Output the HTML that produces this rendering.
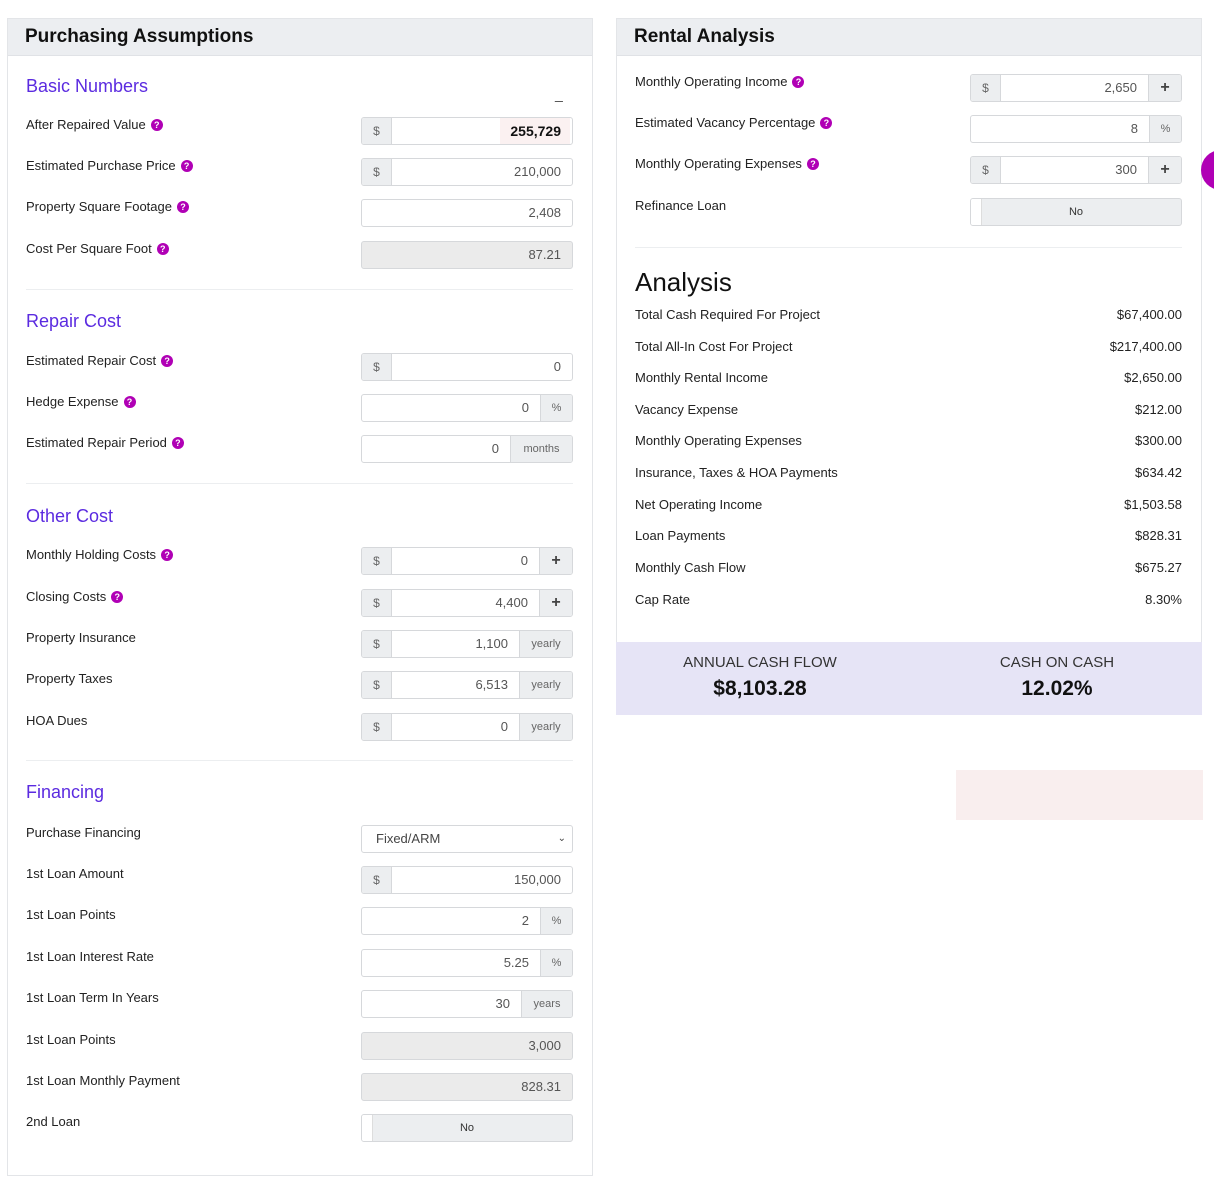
<!DOCTYPE html>
<html><head><meta charset="utf-8">
<style>
*{box-sizing:border-box;margin:0;padding:0}
body{width:1214px;height:1200px;background:#fff;font-family:"Liberation Sans",sans-serif;color:#222;position:relative;overflow:hidden}
.abs{position:absolute}
.panel{position:absolute;border:1px solid #e3e5e8;background:#fff}
.phead{position:absolute;left:0;right:0;top:0;height:37px;background:#eceef1;border-bottom:1px solid #e0e2e6;font-weight:bold;font-size:19px;padding:7px 0 0 17px;color:#111}
.sec{position:absolute;left:26px;font-size:18px;color:#5b2be0}
.lbl{position:absolute;font-size:13px;color:#222;white-space:nowrap;line-height:16px}
.help{display:inline-block;width:12px;height:12px;border-radius:50%;background:#b000b5;color:#fff;font-size:9px;font-weight:bold;text-align:center;line-height:12px;margin-left:5px;vertical-align:1px}
.inp{position:absolute;height:28px;border:1px solid #d6d8db;border-radius:3px;background:#fff;overflow:hidden}
.inp.dis{background:#ebebeb}
.pre,.suf{position:absolute;top:0;bottom:0;background:#eceef0;color:#666;font-size:12px;text-align:center;line-height:26px}
.pre{left:0;width:30px;border-right:1px solid #d6d8db}
.suf{right:0;border-left:1px solid #d6d8db;font-size:11px}
.suf.plus{font-size:16px;font-weight:bold;color:#444}
.val{position:absolute;top:0;line-height:26px;font-size:13px;color:#555;text-align:right}
.div{position:absolute;height:1px;background:#eceef0}
.arow{position:absolute;left:635px;width:547px;font-size:13px;line-height:16px}
.arow span{position:absolute;right:0;top:0}
</style></head>
<body>
<div class="panel" style="left:7px;top:18px;width:586px;height:1158px">
  <div class="phead">Purchasing Assumptions</div>
</div>
<div class="panel" style="left:616px;top:18px;width:586px;height:625px">
  <div class="phead">Rental Analysis</div>
</div>

<div class="sec" style="top:76px">Basic Numbers</div>
<div class="abs" style="left:555px;top:86px;font-size:14px;color:#444">_</div>
<div class="div" style="left:26px;width:547px;top:289px"></div>
<div class="sec" style="top:311px">Repair Cost</div>
<div class="div" style="left:26px;width:547px;top:483px"></div>
<div class="sec" style="top:506px">Other Cost</div>
<div class="div" style="left:26px;width:547px;top:760px"></div>
<div class="sec" style="top:782px">Financing</div>

<div class="div" style="left:635px;width:547px;top:247px"></div>
<div class="abs" style="left:635px;top:267px;font-size:26px;font-weight:bold;color:#111;font-weight:500">Analysis</div>

<div class="abs" style="left:616px;top:642px;width:586px;height:73px;background:#e6e4f6"></div>
<div class="abs" style="left:660px;width:200px;top:654px;text-align:center;font-size:15px;color:#333">ANNUAL CASH FLOW</div>
<div class="abs" style="left:660px;width:200px;top:677px;text-align:center;font-size:21px;font-weight:bold;color:#111">$8,103.28</div>
<div class="abs" style="left:957px;width:200px;top:654px;text-align:center;font-size:15px;color:#333">CASH ON CASH</div>
<div class="abs" style="left:957px;width:200px;top:677px;text-align:center;font-size:21px;font-weight:bold;color:#111">12.02%</div>

<div class="abs" style="left:1201px;top:150px;width:40px;height:40px;border-radius:50%;background:#b000b5"></div>
<div class="abs" style="left:956px;top:770px;width:247px;height:50px;background:#f9eeee"></div>

<div id="rows"></div>
<script>
var root=document.getElementById('rows');
function mk(tag,cls,style){var e=document.createElement(tag);if(cls)e.className=cls;if(style)e.setAttribute('style',style);return e;}
// [label, help, labelY, prefix, value, suffix, kind]
var leftRows=[
['After Repaired Value',1,125,'$','255,729','', 'bold'],
['Estimated Purchase Price',1,166,'$','210,000','',''],
['Property Square Footage',1,207,'','2,408','',''],
['Cost Per Square Foot',1,249,'','87.21','','dis'],
['Estimated Repair Cost',1,361,'$','0','',''],
['Hedge Expense',1,402,'','0','%',''],
['Estimated Repair Period',1,443,'','0','months',''],
['Monthly Holding Costs',1,555,'$','0','+',''],
['Closing Costs',1,597,'$','4,400','+',''],
['Property Insurance',0,638,'$','1,100','yearly',''],
['Property Taxes',0,679,'$','6,513','yearly',''],
['HOA Dues',0,721,'$','0','yearly',''],
['Purchase Financing',0,833,'','Fixed/ARM','','select'],
['1st Loan Amount',0,874,'$','150,000','',''],
['1st Loan Points',0,915,'','2','%',''],
['1st Loan Interest Rate',0,957,'','5.25','%',''],
['1st Loan Term In Years',0,998,'','30','years',''],
['1st Loan Points',0,1040,'','3,000','','dis'],
['1st Loan Monthly Payment',0,1081,'','828.31','','dis'],
['2nd Loan',0,1122,'','No','','toggle']
];
var rightRows=[
['Monthly Operating Income',1,82,'$','2,650','+',''],
['Estimated Vacancy Percentage',1,123,'','8','%',''],
['Monthly Operating Expenses',1,164,'$','300','+',''],
['Refinance Loan',0,206,'','No','','toggle']
];
var sufW={'%':32,'months':62,'yearly':53,'years':51,'+':33};
function slug(s){return s.toLowerCase().replace(/[^a-z0-9]+/g,'-').replace(/^-|-$/g,'');}
function build(rows,lx,ix,iw){
 rows.forEach(function(r){
  var l=mk('div','lbl','left:'+lx+'px;top:'+(r[2]-8)+'px');
  l.textContent=r[0];
  
  
  if(r[1]){var h=mk('span','help');h.textContent='?';
   
   
   l.appendChild(h);}
  root.appendChild(l);
  var top=r[2]-8;
  var box=mk('div','inp'+(r[6]=='dis'?' dis':''),'left:'+ix+'px;top:'+top+'px;width:'+iw+'px');
  
  
  if(r[6]=='toggle'){
   box.style.background='#eceef0';
   var k=mk('div','','position:absolute;left:0;top:0;bottom:0;width:11px;background:#fff;border-right:1px solid #ddd');
   
   
   box.appendChild(k);
   var t=mk('div','','position:absolute;left:0;right:0;top:0;line-height:26px;text-align:center;font-size:11px;color:#333');
   t.textContent=r[4];
   
   
   box.appendChild(t);
  } else if(r[6]=='select'){
   var t=mk('div','','position:absolute;left:14px;top:0;line-height:26px;font-size:13px;color:#444');
   t.textContent=r[4];
   
   
   box.appendChild(t);
   var c=mk('div','','position:absolute;right:6px;top:0;line-height:26px;font-size:10px;color:#444');
   c.textContent='\u2304';
   
   
   box.appendChild(c);
  } else {
   var left=0,right=0;
   if(r[3]){var p=mk('div','pre');p.textContent=r[3];
    
    
    box.appendChild(p);left=30;}
   if(r[5]){var w=sufW[r[5]];var s=mk('div','suf'+(r[5]=='+'?' plus':''),'width:'+w+'px');s.textContent=r[5];
    
    
    box.appendChild(s);right=w;}
   var v=mk('div','val','left:'+left+'px;right:'+(right+11)+'px');
   v.textContent=r[4];
   
   
   if(r[6]=='bold'){v.style.fontWeight='bold';v.style.color='#111';v.style.fontSize='14px';
    var bg=mk('div','','position:absolute;right:2px;top:0;bottom:0;width:70px;background:#fbf1f1');
    
    
    box.appendChild(bg);}
   box.appendChild(v);
  }
  root.appendChild(box);
 });
}
build(leftRows,26,361,212);
build(rightRows,635,970,212);
var aLabels=['Total Cash Required For Project','Total All-In Cost For Project','Monthly Rental Income','Vacancy Expense','Monthly Operating Expenses','Insurance, Taxes & HOA Payments','Net Operating Income','Loan Payments','Monthly Cash Flow','Cap Rate'];
var aValues=['$67,400.00','$217,400.00','$2,650.00','$212.00','$300.00','$634.42','$1,503.58','$828.31','$675.27','8.30%'];
var aY=[315,347,378,410,441,473,505,536,568,600];
aLabels.forEach(function(lab,i){
 var d=mk('div','arow','top:'+(aY[i]-8)+'px');
 d.textContent=lab;
 
 
 var s=mk('span');s.textContent=aValues[i];
 
 
 d.appendChild(s);
 root.appendChild(d);
});
</script>
</body></html>
